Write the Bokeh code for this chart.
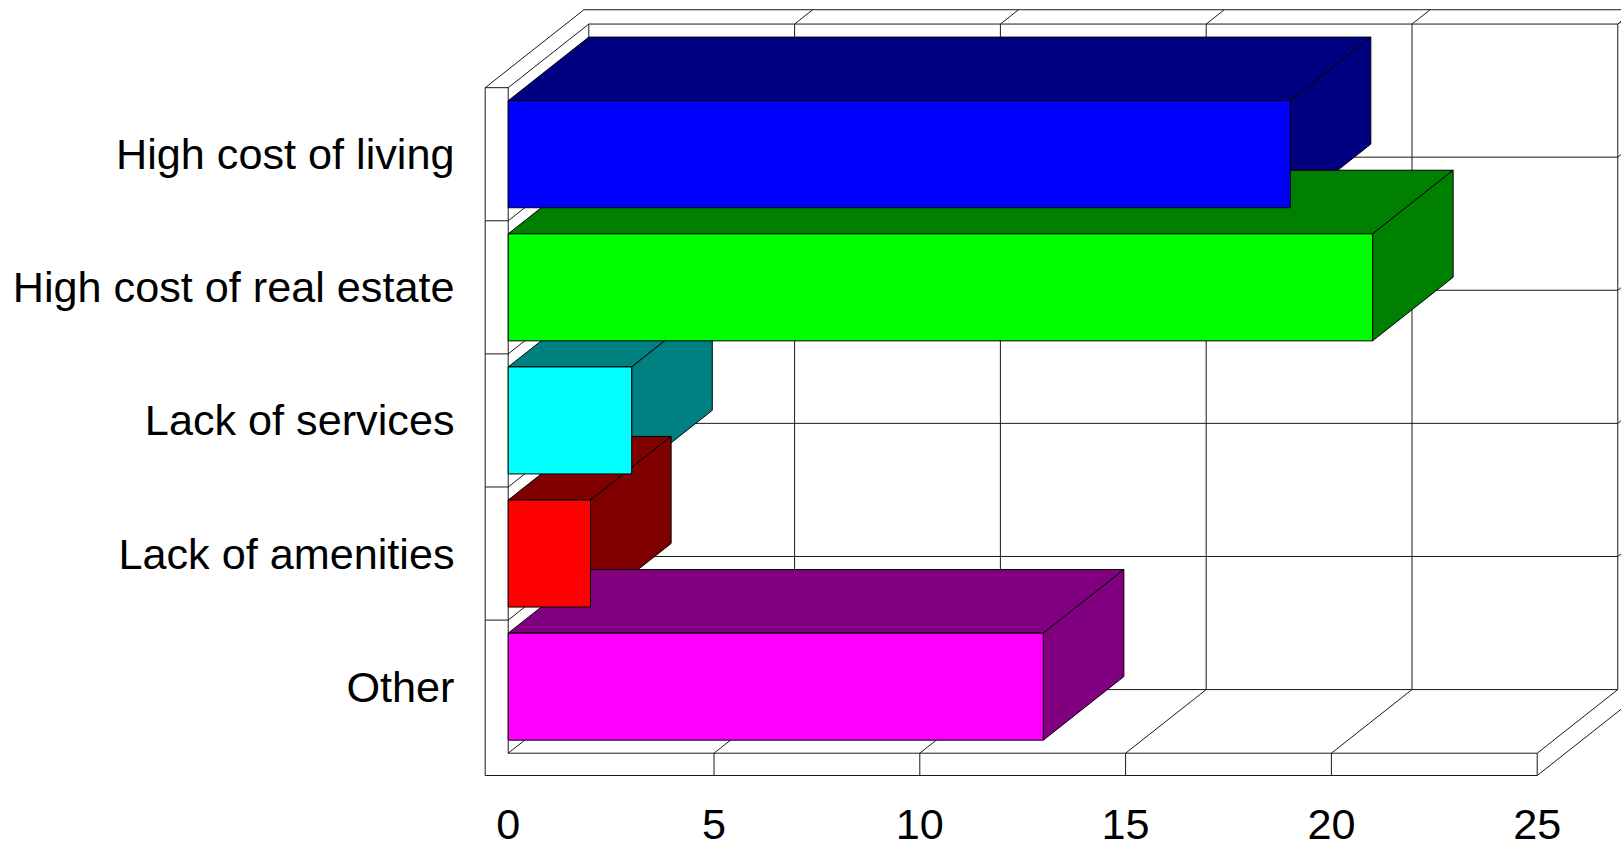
from bokeh.plotting import figure
from bokeh.models import Range1d
from bokeh.core.properties import value
from bokeh.embed import file_html
from bokeh.resources import INLINE

# ---- data ----
categories = ["High cost of living", "High cost of real estate", "Lack of services",
              "Lack of amenities", "Other"]
values = [19, 21, 3, 2, 13]
front_colors = ["#0000FF", "#00FF00", "#00FFFF", "#FF0000", "#FF00FF"]
shade_colors = ["#000080", "#008000", "#008080", "#800000", "#800080"]
ticks = [0, 5, 10, 15, 20, 25]

# ---- geometry (data units: x = value, y = category slot) ----
n = len(categories)
XMAX = ticks[-1]
DX, DY = 1.958, 0.478        # depth offset of back wall front face
D2 = 1.225                   # relative depth of back wall back face
W = 0.559                    # left wall thickness (x units)
FT, FB = -0.5, -0.6675       # floor top / bottom
TOP = n - 0.5
HALF = 0.402                 # half bar thickness
FONT = "Liberation Sans"


def P(x, y, d=1.0):
    return x + d * DX, y + d * DY


p = figure(width=1621, height=848, output_backend="svg", toolbar_location=None,
           x_range=Range1d(-12.335, 27.048), y_range=Range1d(-1.216, 5.155),
           x_axis_type=None, y_axis_type=None, min_border=0)
p.outline_line_color = None
p.grid.visible = False
p.background_fill_color = "white"
p.border_fill_color = "white"

xs, ys = [], []


def seg(a, b):
    xs.append([a[0], b[0]])
    ys.append([a[1], b[1]])


bounds = [i + 0.5 for i in range(n - 1)]
# front faces of left wall and floor
seg((-W, FB), (-W, TOP))
seg((0, FT), (0, TOP))
seg((-W, TOP), (0, TOP))
seg((-W, FB), (XMAX, FB))
seg((0, FT), (XMAX, FT))
seg((XMAX, FB), (XMAX, FT))
for b in bounds:
    seg((-W, b), (0, b))
for t in ticks[1:-1]:
    seg((t, FB), (t, FT))
# wall tops
seg((-W, TOP), P(-W, TOP, D2))
seg((0, TOP), P(0, TOP))
seg(P(0, TOP), P(XMAX, TOP))
seg(P(-W, TOP, D2), P(XMAX, TOP, D2))
for t in ticks[1:]:
    seg(P(t, TOP), P(t, TOP, D2))
# back wall grid
for t in ticks:
    seg(P(t, FT), P(t, TOP))
for b in [FT] + bounds:
    seg(P(0, b), P(XMAX, b))
    seg((0, b), P(0, b))
for b in bounds + [TOP]:
    seg(P(XMAX, b), P(XMAX, b, D2))
# floor grid
for t in ticks[1:]:
    seg((t, FT), P(t, FT))
seg((XMAX, FB), P(XMAX, FB, D2))

p.multi_line(xs, ys, line_color="#1a1a1a", line_width=1)

# ---- bars: top and side faces (top to bottom), then front faces ----
pxs, pys, pcol = [], [], []
bottoms, tops = [], []
for k, (cat, v) in enumerate(zip(categories, values)):
    c = n - 1 - k
    yb, yt = c - HALF, c + HALF
    bottoms.append(yb)
    tops.append(yt)
    b1, b2 = P(0, yt), P(v, yt)
    pxs.append([0, v, b2[0], b1[0]])
    pys.append([yt, yt, b2[1], b1[1]])
    pcol.append(shade_colors[k])
    s1, s2 = P(v, yt), P(v, yb)
    pxs.append([v, s1[0], s2[0], v])
    pys.append([yt, s1[1], s2[1], yb])
    pcol.append(shade_colors[k])

p.patches(pxs, pys, fill_color=pcol, line_color="black", line_width=1, line_join="miter")
p.quad(left=[0] * n, right=values, bottom=bottoms, top=tops,
       fill_color=front_colors, line_color="black", line_width=1, line_join="miter")

# ---- labels ----
FS = "43.2px"
p.text(x=[-1.305] * n, y=[n - 1 - k for k in range(n)], text=categories,
       text_font=value(FONT), text_font_size=FS, text_align="right",
       text_baseline="middle", text_color="black")
p.text(x=ticks, y=[-1.032] * len(ticks), text=[str(t) for t in ticks],
       text_font=value(FONT), text_font_size=FS, text_align="center",
       text_baseline="middle", text_color="black")

open("out.html", "w").write(file_html(p, INLINE))
